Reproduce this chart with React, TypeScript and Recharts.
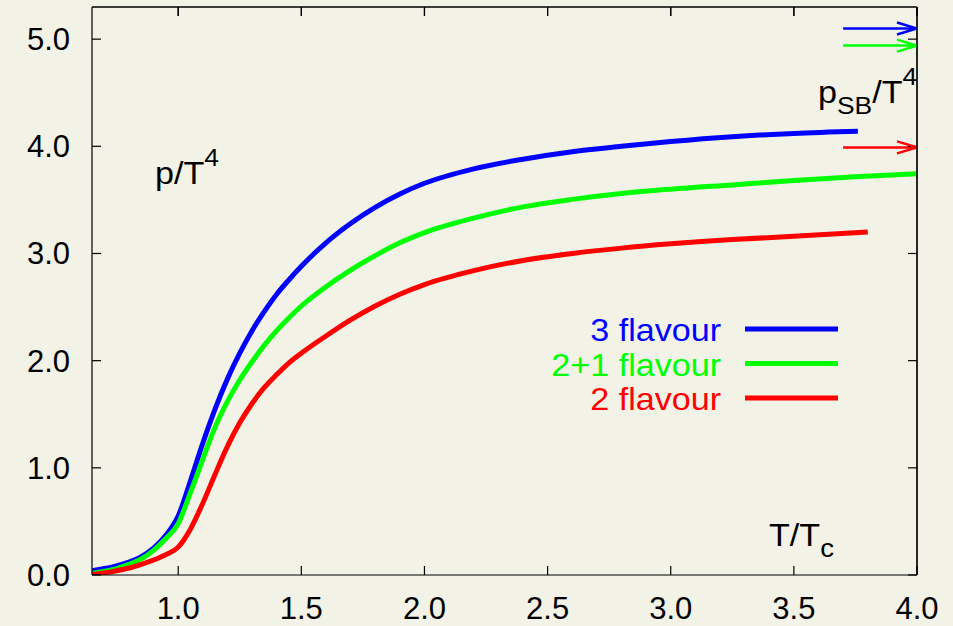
import React from 'react';
import { LineChart, Line, XAxis, YAxis } from 'recharts';

const FONT = '"Liberation Sans", Arial, Helvetica, sans-serif';
const BG = '#f2f2e6';

const xTicks = [1.0, 1.5, 2.0, 2.5, 3.0, 3.5, 4.0];
const yTicks = [0, 1, 2, 3, 4, 5];
const xDomain = [0.65, 4.0];
const yDomain = [0, 5.3];

const seriesNames = ['3 flavour', '2+1 flavour', '2 flavour'];
const seriesColors = ['#0000ff', '#00ff00', '#ff0000'];

// p/T^4 vs T/Tc
const flavour3: [number, number][] = [
  [0.65, 0.04], [0.7, 0.06], [0.75, 0.085], [0.8, 0.12], [0.85, 0.17], [0.9, 0.25],
  [0.95, 0.37], [1.0, 0.55], [1.05, 0.88], [1.1, 1.23], [1.15, 1.55], [1.2, 1.83],
  [1.25, 2.07], [1.3, 2.28], [1.35, 2.46], [1.4, 2.62], [1.45, 2.755], [1.5, 2.88],
  [1.55, 2.995], [1.6, 3.1], [1.7, 3.28], [1.8, 3.43], [1.9, 3.555], [2.0, 3.655],
  [2.2, 3.79], [2.4, 3.88], [2.6, 3.95], [2.8, 4.0], [3.0, 4.045], [3.25, 4.09],
  [3.5, 4.12], [3.76, 4.14],
];
const flavour21: [number, number][] = [
  [0.65, 0.015], [0.7, 0.035], [0.75, 0.06], [0.8, 0.1], [0.85, 0.15], [0.9, 0.23],
  [0.95, 0.34], [1.0, 0.48], [1.05, 0.77], [1.1, 1.08], [1.15, 1.38], [1.2, 1.62],
  [1.25, 1.82], [1.3, 1.99], [1.35, 2.145], [1.4, 2.28], [1.45, 2.4], [1.5, 2.51],
  [1.6, 2.69], [1.7, 2.845], [1.8, 2.98], [1.9, 3.1], [2.0, 3.195], [2.2, 3.33],
  [2.4, 3.435], [2.6, 3.505], [2.8, 3.56], [3.0, 3.6], [3.25, 3.64], [3.5, 3.68],
  [3.75, 3.715], [4.0, 3.745],
];
const flavour2: [number, number][] = [
  [0.65, 0.005], [0.7, 0.02], [0.75, 0.04], [0.8, 0.065], [0.85, 0.1], [0.9, 0.14],
  [0.95, 0.19], [1.0, 0.26], [1.05, 0.43], [1.1, 0.67], [1.15, 0.94], [1.2, 1.2],
  [1.25, 1.42], [1.3, 1.6], [1.35, 1.75], [1.4, 1.87], [1.45, 1.98], [1.5, 2.07],
  [1.6, 2.23], [1.7, 2.38], [1.8, 2.51], [1.9, 2.62], [2.0, 2.71], [2.2, 2.84],
  [2.4, 2.935], [2.6, 3.0], [2.8, 3.05], [3.0, 3.09], [3.25, 3.13], [3.5, 3.16],
  [3.8, 3.2],
];

// Stefan-Boltzmann limits (arrows)
const sbLimits = [5.1, 4.94, 3.99];
const arrowFromX = 3.7;
const arrowToX = 4.0;

const toPts = (arr: [number, number][]) => arr.map(([x, y]) => ({ x, y }));
const curves = [flavour3, flavour21, flavour2].map(toPts);
const arrows = sbLimits.map((y) => [{ x: arrowFromX, y }, { x: arrowToX, y }]);

// plot frame (layout)
const PLOT = { left: 92, top: 7, right: 917, bottom: 575 };
const xPix = (v: number) =>
  PLOT.left + ((v - xDomain[0]) / (xDomain[1] - xDomain[0])) * (PLOT.right - PLOT.left);

const makeArrowHead = (color: string) => (props: any) => {
  const { cx, cy, index } = props;
  if (index !== 1 || cx == null) return <g key={`a${index}`} />;
  return (
    <path
      key={`a${index}`}
      d={`M${cx - 20},${cy - 6} L${cx},${cy} L${cx - 20},${cy + 6}`}
      fill="none"
      stroke={color}
      strokeWidth={2.5}
    />
  );
};

const tickStyle = { fill: '#000', fontSize: 31, fontFamily: FONT };
const axisStroke = { stroke: '#000', strokeWidth: 1.2 };
const noLabel = (p: any) => <g key={`n-${p.index}-${p.x}-${p.y}`} />;

const SX = 1.1;

export default function App() {
  return (
    <div style={{ position: 'absolute', left: 0, top: 0, width: 953, height: 626, background: BG }}>
      <LineChart width={953} height={626} margin={{ top: 2, right: 31, bottom: 0, left: 0 }}>
        <XAxis
          xAxisId="b"
          type="number"
          dataKey="x"
          domain={xDomain}
          ticks={xTicks}
          allowDataOverflow
          tickFormatter={(v: number) => v.toFixed(1)}
          height={51}
          tickSize={-9}
          tickMargin={31}
          tick={tickStyle}
          axisLine={axisStroke}
          tickLine={axisStroke}
        />
        <XAxis
          xAxisId="t"
          orientation="top"
          type="number"
          dataKey="x"
          domain={xDomain}
          ticks={xTicks}
          allowDataOverflow
          height={5}
          tickSize={-9}
          tick={noLabel}
          axisLine={axisStroke}
          tickLine={axisStroke}
        />
        <YAxis
          yAxisId="l"
          type="number"
          domain={yDomain}
          ticks={yTicks}
          allowDataOverflow
          tickFormatter={(v: number) => v.toFixed(1)}
          width={92}
          tickSize={-9}
          tickMargin={31}
          tick={tickStyle}
          axisLine={axisStroke}
          tickLine={axisStroke}
        />
        <YAxis
          yAxisId="r"
          orientation="right"
          type="number"
          domain={yDomain}
          ticks={yTicks}
          allowDataOverflow
          width={5}
          tickSize={-9}
          tick={noLabel}
          axisLine={axisStroke}
          tickLine={axisStroke}
        />
        {curves.map((d, i) => (
          <Line
            key={seriesNames[i]}
            name={seriesNames[i]}
            xAxisId="b"
            yAxisId="l"
            data={d}
            dataKey="y"
            type="monotone"
            stroke={seriesColors[i]}
            strokeWidth={5}
            dot={false}
            activeDot={false}
            isAnimationActive={false}
          />
        ))}
        {arrows.map((d, i) => (
          <Line
            key={`arrow-${i}`}
            xAxisId="t"
            yAxisId="r"
            data={d}
            dataKey="y"
            type="linear"
            stroke={seriesColors[i]}
            strokeWidth={2.5}
            dot={makeArrowHead(seriesColors[i])}
            activeDot={false}
            isAnimationActive={false}
          />
        ))}
      </LineChart>
      <svg
        width={953}
        height={626}
        style={{ position: 'absolute', left: 0, top: 0, pointerEvents: 'none' }}
        fontFamily={FONT}
      >
        <line x1={PLOT.left} x2={PLOT.right} y1={PLOT.top} y2={PLOT.top} stroke="#000" strokeWidth={1.2} />
        <line x1={PLOT.right} x2={PLOT.right} y1={PLOT.top} y2={PLOT.bottom} stroke="#000" strokeWidth={1.2} />
        {xTicks.map((t) => (
          <line
            key={`tt-${t}`}
            x1={xPix(t)}
            x2={xPix(t)}
            y1={PLOT.top}
            y2={PLOT.top + 9}
            stroke="#000"
            strokeWidth={1.2}
          />
        ))}
        <text transform={`translate(155,184) scale(${SX},1)`} fontSize={31} fill="#000">
          p/T<tspan dy={-18} fontSize={24}>4</tspan>
        </text>
        <text transform={`translate(818,103) scale(${SX},1)`} fontSize={31} fill="#000">
          p<tspan dy={11} fontSize={24}>SB</tspan>
          <tspan dy={-11}>/T</tspan>
          <tspan dy={-18} fontSize={24}>4</tspan>
        </text>
        <text transform={`translate(769,546) scale(${SX},1)`} fontSize={31} fill="#000">
          T/T<tspan dy={11} fontSize={25}>c</tspan>
        </text>
        {seriesNames.map((n, i) => (
          <g key={n}>
            <text
              transform={`translate(721,${341 + i * 34.5}) scale(${SX},1)`}
              fontSize={31}
              fill={seriesColors[i]}
              textAnchor="end"
            >
              {n}
            </text>
            <line
              x1={745}
              x2={838}
              y1={329 + i * 34.5}
              y2={329 + i * 34.5}
              stroke={seriesColors[i]}
              strokeWidth={5}
            />
          </g>
        ))}
      </svg>
    </div>
  );
}
